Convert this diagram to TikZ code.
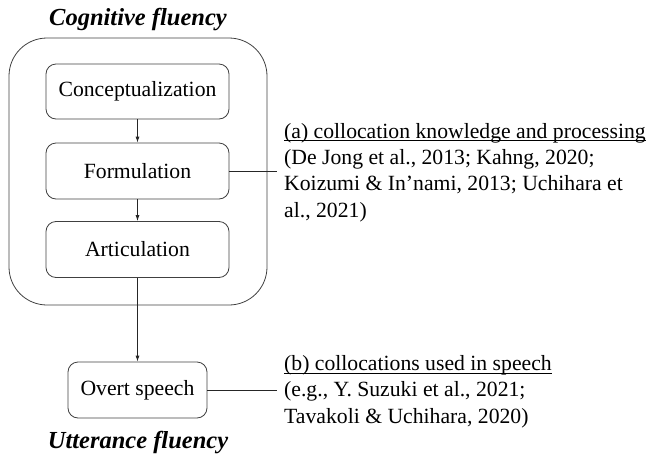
\documentclass[tikz,border=0pt]{standalone}
\usepackage{fontspec}
\setmainfont{Liberation Serif}
\usetikzlibrary{arrows.meta}
\newsavebox\ulbox
\newcommand\myul[1]{\sbox\ulbox{#1}\rlap{\rule[-3.2pt]{\wd\ulbox}{1pt}}\usebox\ulbox}
\tikzset{
  stagebox/.style={draw=black!75, line width=0.8pt, rounded corners=10pt, font=\fontsize{21.7pt}{26pt}\selectfont, inner sep=0pt},
  flow/.style={draw=black!85, line width=0.8pt, -{Latex[length=6pt,width=4pt]}},
  link/.style={draw=black!85, line width=0.8pt},
  notes/.style={font=\fontsize{21.7pt}{26.3pt}\selectfont, align=left, inner sep=0pt},
  heading/.style={font=\fontsize{24.5pt}{28pt}\selectfont\bfseries\itshape, inner sep=0pt}
}
\begin{document}
\begin{tikzpicture}[x=1pt,y=-1pt]
\useasboundingbox (0,0) rectangle (649,461);
\node[heading, anchor=base] (cog) at (138,25) {Cognitive fluency};
\node[draw=black!75, line width=0.8pt, rounded corners=38pt, minimum width=258pt, minimum height=267pt, inner sep=0pt] (outer) at (138,171.5) {};
\node[stagebox, minimum width=183pt, minimum height=55pt] (concept) at (137.5,91.5) {Conceptualization};
\node[stagebox, minimum width=183pt, minimum height=56pt] (form) at (137.5,171) {Formulation};
\node[stagebox, minimum width=183pt, minimum height=56pt] (artic) at (137.5,249.5) {Articulation};
\node[stagebox, minimum width=139pt, minimum height=56pt] (overt) at (137.5,390) {Overt speech};
\node[heading, anchor=base] (utt) at (138,448) {Utterance fluency};
\draw[flow] (concept) -- (form);
\draw[flow] (form) -- (artic);
\draw[flow] (artic) -- (overt);
\coordinate (aend) at (277,171);
\coordinate (bend) at (277,390);
\draw[link] (form.east) -- (aend);
\draw[link] (overt.east) -- (bend);
\node[notes, anchor=base west] (anote) at (284,217) {\myul{(a) collocation knowledge and processing}\\(De Jong et al., 2013; Kahng, 2020;\\Koizumi \& In’nami, 2013; Uchihara et\\al., 2021)};
\node[notes, anchor=base west] (bnote) at (284,423) {\myul{(b) collocations used in speech}\\(e.g., Y. Suzuki et al., 2021;\\Tavakoli \& Uchihara, 2020)};
\end{tikzpicture}
\end{document}
